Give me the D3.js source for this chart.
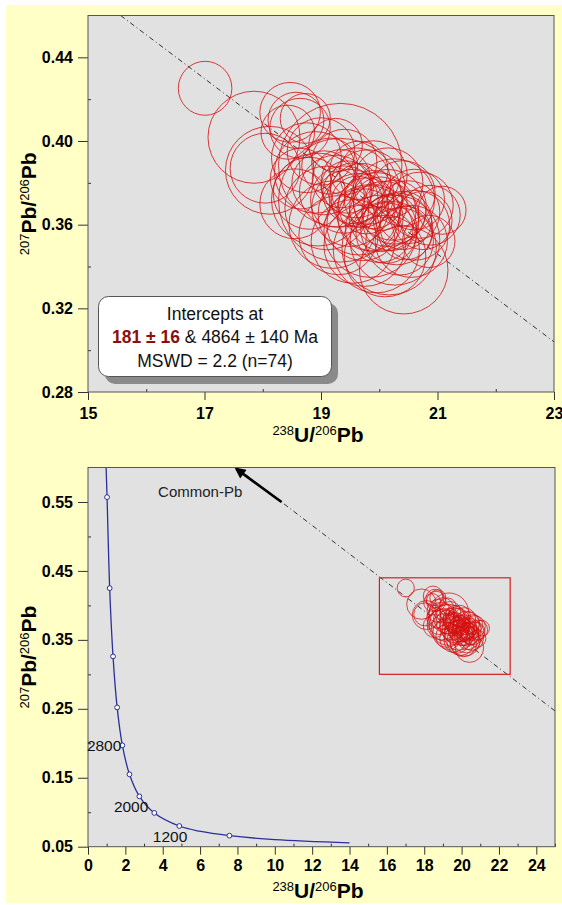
<!DOCTYPE html>
<html>
<head>
<meta charset="utf-8">
<script src="https://cdn.jsdelivr.net/npm/d3@7"></script>
<style>
  body { margin: 0; background: #fff; }
  svg { display: block; font-family: "Liberation Sans", Arial, sans-serif; }
</style>
</head>
<body>
<svg id="chart" width="562" height="905"></svg>
<script>

// spot analyses: 238U/206Pb, 207Pb/206Pb and their error half-widths
var u238 = [17.01, 17.85, 18.47, 18.57, 18.64, 18.43, 18.73, 19.33, 18.12, 18.04, 19.33, 20.42, 20.17, 20.27, 21.08, 20.87, 20.70, 20.61,
            18.75, 18.90, 19.05, 19.15, 19.25, 19.35, 19.40, 19.45, 19.50, 19.55, 19.60, 19.62, 19.65, 19.70, 19.72, 19.78, 19.80, 19.85,
            19.90, 19.95, 20.00, 20.02, 20.08, 20.12, 20.15, 20.20, 20.25, 20.30, 20.35, 20.40, 20.45, 20.50,
            19.10, 18.95, 19.20, 19.30, 19.55, 19.75, 19.95, 20.10, 19.40, 19.65, 19.90, 20.15, 20.40, 20.60, 20.75, 20.55,
            18.80, 18.65, 19.00, 19.25, 20.85, 19.85, 18.55, 20.25];
var pb207 = [0.4252, 0.4018, 0.4137, 0.4099, 0.4061, 0.4042, 0.4108, 0.3884, 0.3860, 0.3870, 0.3717, 0.3383, 0.3488, 0.3526, 0.3669, 0.3645, 0.3693, 0.3597,
             0.392, 0.385, 0.380, 0.388, 0.376, 0.382, 0.372, 0.378, 0.368, 0.375, 0.380, 0.371, 0.365, 0.374, 0.360, 0.369, 0.378, 0.363,
             0.372, 0.366, 0.358, 0.370, 0.364, 0.356, 0.368, 0.361, 0.366, 0.358, 0.352, 0.362, 0.356, 0.366,
             0.368, 0.372, 0.360, 0.355, 0.352, 0.350, 0.348, 0.345, 0.390, 0.386, 0.384, 0.380, 0.375, 0.372, 0.362, 0.352,
             0.375, 0.382, 0.395, 0.398, 0.352, 0.357, 0.370, 0.372];
var errU = [0.46, 0.79, 0.52, 0.48, 0.52, 0.46, 0.43, 1.06, 0.76, 0.60, 1.06, 0.76, 0.81, 0.77, 0.41, 0.52, 0.57, 0.60,
            0.60, 0.70, 0.55, 0.48, 0.62, 0.50, 0.58, 0.45, 0.66, 0.52, 0.60, 0.44, 0.70, 0.55, 0.62, 0.48, 0.64, 0.56,
            0.50, 0.68, 0.58, 0.46, 0.60, 0.52, 0.66, 0.48, 0.55, 0.62, 0.58, 0.50, 0.46, 0.54,
            0.72, 0.80, 0.75, 0.68, 0.72, 0.70, 0.74, 0.70, 0.56, 0.50, 0.58, 0.60, 0.56, 0.52, 0.50, 0.62,
            0.62, 0.52, 0.58, 0.46, 0.45, 0.80, 0.60, 0.70];
var errPb = [0.0129, 0.0220, 0.0143, 0.0134, 0.0143, 0.0129, 0.0119, 0.0296, 0.0210, 0.0167, 0.0296, 0.0210, 0.0224, 0.0215, 0.0115, 0.0143, 0.0158, 0.0167,
             0.0167, 0.0195, 0.0153, 0.0134, 0.0172, 0.0139, 0.0161, 0.0125, 0.0184, 0.0145, 0.0167, 0.0122, 0.0195, 0.0153, 0.0172, 0.0134, 0.0178, 0.0156,
             0.0139, 0.0189, 0.0161, 0.0128, 0.0167, 0.0145, 0.0184, 0.0134, 0.0153, 0.0172, 0.0161, 0.0139, 0.0128, 0.0150,
             0.0200, 0.0222, 0.0209, 0.0189, 0.0200, 0.0195, 0.0206, 0.0195, 0.0156, 0.0139, 0.0161, 0.0167, 0.0156, 0.0145, 0.0139, 0.0172,
             0.0172, 0.0145, 0.0161, 0.0128, 0.0125, 0.0222, 0.0167, 0.0195];

var topLine = [[15.56, 0.460], [23.0, 0.304]];
var bottomLine = [[7.94, 0.600], [25.0, 0.247]];
var commonArrow = [[10.36, 0.550], [7.94, 0.598]];
var zoomBox = [[15.6, 0.44], [22.6, 0.30]];

// concordia (Tera-Wasserburg) markers every 400 Ma
var concAges = [4400, 4000, 3600, 3200, 2800, 2400, 2000, 1600, 1200, 800];
var concX = [1.02, 1.16, 1.34, 1.56, 1.84, 2.22, 2.75, 3.55, 4.89, 7.57];
var concY = [0.557, 0.425, 0.326, 0.252, 0.197, 0.155, 0.123, 0.099, 0.080, 0.066];
// curve trace
var curveX = [0.97, 1.02, 1.16, 1.34, 1.56, 1.84, 2.22, 2.75, 3.55, 4.89, 5.96, 7.57, 10.0, 14.0];
var curveY = [0.600, 0.557, 0.425, 0.326, 0.252, 0.197, 0.155, 0.123, 0.099, 0.080, 0.0725, 0.066, 0.0603, 0.0556];
var labelAges = [2800, 2000, 1200];

// ticks
var topXTicks = [15, 17, 19, 21, 23], topXMinor = [16, 18, 20, 22];
var topYTicks = [0.28, 0.32, 0.36, 0.40, 0.44], topYMinor = [0.30, 0.34, 0.38, 0.42];
var botXTicks = [0, 2, 4, 6, 8, 10, 12, 14, 16, 18, 20, 22, 24], botXMinor = [1, 3, 5, 7, 9, 11, 13, 15, 17, 19, 21, 23, 25];
var botYTicks = [0.05, 0.15, 0.25, 0.35, 0.45, 0.55], botYMinor = [0.10, 0.20, 0.30, 0.40, 0.50];

var svg = d3.select("#chart");

svg.append("rect").attr("width", 562).attr("height", 905).attr("fill", "#fff");
svg.append("rect").attr("x", 6).attr("y", 5).attr("width", 556).attr("height", 898).attr("fill", "#ffffc6");

var defs = svg.append("defs");
defs.append("marker")
    .attr("id", "head")
    .attr("viewBox", "0 -5 10 10")
    .attr("refX", 8).attr("refY", 0)
    .attr("markerWidth", 5).attr("markerHeight", 4.2)
    .attr("orient", "auto")
  .append("path")
    .attr("d", "M0,-5L10,0L0,5Z")
    .attr("fill", "#000");

var points = u238.map(function(d, i) {
    return {x: d, y: pb207[i], ex: errU[i], ey: errPb[i]};
});

function panel(id, box, xd, yd) {
    var x = d3.scaleLinear().domain(xd).range([box.l, box.r]);
    var y = d3.scaleLinear().domain(yd).range([box.b, box.t]);
    var g = svg.append("g");
    g.append("rect")
        .attr("x", box.l).attr("y", box.t)
        .attr("width", box.r - box.l).attr("height", box.b - box.t)
        .attr("fill", "#e1e1e1");
    defs.append("clipPath").attr("id", id)
      .append("rect")
        .attr("x", box.l).attr("y", box.t)
        .attr("width", box.r - box.l).attr("height", box.b - box.t);
    var inner = g.append("g").attr("clip-path", "url(#" + id + ")");
    return {g: g, inner: inner, x: x, y: y, box: box};
}

function styleAxis(a) {
    a.select(".domain").remove();
    a.selectAll("line").attr("stroke", "#333");
    a.selectAll("text")
        .attr("font-family", "'Liberation Sans', Arial, sans-serif")
        .attr("font-size", 16)
        .attr("font-weight", "bold")
        .attr("fill", "#000");
}

function axes(p, xt, xm, yt, ym, xfmt, yfmt, xpad) {
    var b = p.box;
    p.g.append("g").attr("transform", "translate(0," + b.b + ")")
        .call(d3.axisBottom(p.x).tickValues(xm).tickSize(-3).tickFormat(""))
        .call(styleAxis);
    p.g.append("g").attr("transform", "translate(0," + b.b + ")")
        .call(d3.axisBottom(p.x).tickValues(xt).tickSize(8).tickPadding(xpad).tickFormat(xfmt))
        .call(styleAxis);
    p.g.append("g").attr("transform", "translate(" + b.l + ",0)")
        .call(d3.axisLeft(p.y).tickValues(ym).tickSize(-3).tickFormat(""))
        .call(styleAxis);
    p.g.append("g").attr("transform", "translate(" + b.l + ",0)")
        .call(d3.axisLeft(p.y).tickValues(yt).tickSize(10).tickPadding(5).tickFormat(yfmt))
        .call(styleAxis);
    p.g.append("rect")
        .attr("x", b.l).attr("y", b.t)
        .attr("width", b.r - b.l).attr("height", b.b - b.t)
        .attr("fill", "none").attr("stroke", "#555").attr("stroke-width", 1);
}

function ratioLabel(t, a, A, b, B) {
    t.attr("font-size", 21).attr("font-weight", "bold").attr("fill", "#000");
    t.append("tspan").attr("font-size", 13).attr("font-weight", "normal").attr("dy", -7).text(a);
    t.append("tspan").attr("dy", 7).text(A + "/");
    t.append("tspan").attr("font-size", 13).attr("font-weight", "normal").attr("dy", -7).text(b);
    t.append("tspan").attr("dy", 7).text(B);
}

function ellipses(p, opacity) {
    p.inner.selectAll("ellipse.spot")
        .data(points)
      .enter().append("ellipse")
        .attr("class", "spot")
        .attr("cx", function(d) { return p.x(d.x); })
        .attr("cy", function(d) { return p.y(d.y); })
        .attr("rx", function(d) { return p.x(d.x + d.ex) - p.x(d.x); })
        .attr("ry", function(d) { return p.y(d.y) - p.y(d.y + d.ey); })
        .attr("fill", "none")
        .attr("stroke", "#d40f0f")
        .attr("stroke-opacity", opacity)
        .attr("stroke-width", 1);
}

function dashLine(p, pts) {
    p.inner.append("line")
        .attr("x1", p.x(pts[0][0])).attr("y1", p.y(pts[0][1]))
        .attr("x2", p.x(pts[1][0])).attr("y2", p.y(pts[1][1]))
        .attr("stroke", "#333")
        .attr("stroke-width", 1)
        .attr("stroke-dasharray", "5,3,1,3");
}

// ---- top panel ----
var upper = panel("clipTop", {l: 88, r: 554, t: 15.5, b: 392}, [15, 23], [0.28, 0.46]);
dashLine(upper, topLine);
ellipses(upper, 0.8);
axes(upper, topXTicks, topXMinor, topYTicks, topYMinor, d3.format("d"), d3.format(".2f"), 8);

ratioLabel(svg.append("text")
    .attr("text-anchor", "middle")
    .attr("x", 318).attr("y", 442), "238", "U", "206", "Pb");
ratioLabel(svg.append("text")
    .attr("text-anchor", "middle")
    .attr("transform", "translate(36," + ((upper.box.t + upper.box.b) / 2) + ") rotate(-90)"), "207", "Pb", "206", "Pb");

// intercepts box
var lg = svg.append("g");
lg.append("rect").attr("x", 105).attr("y", 303).attr("width", 233).attr("height", 81)
    .attr("rx", 10).attr("fill", "#8a8a8a");
lg.append("rect").attr("x", 98.5).attr("y", 296.5).attr("width", 233).attr("height", 80)
    .attr("rx", 10).attr("fill", "#fff").attr("stroke", "#555");
lg.append("text").attr("text-anchor", "middle").attr("font-size", 17.5).attr("fill", "#111")
    .attr("x", 215).attr("y", 319.5).text("Intercepts at");
var l2 = lg.append("text").attr("text-anchor", "middle").attr("font-size", 17.5).attr("fill", "#111")
    .attr("x", 215).attr("y", 343);
l2.append("tspan").attr("fill", "#8b0f0f").attr("font-weight", "bold").text("181 \u00b1 16");
l2.append("tspan").text(" & 4864 \u00b1 140 Ma");
lg.append("text").attr("text-anchor", "middle").attr("font-size", 17.5).attr("fill", "#111")
    .attr("x", 215).attr("y", 367).text("MSWD = 2.2 (n=74)");

// ---- bottom panel ----
var lower = panel("clipBot", {l: 88, r: 555, t: 467.5, b: 846.7}, [0, 25], [0.05, 0.60]);
dashLine(lower, bottomLine);

lower.inner.append("line")
    .attr("x1", lower.x(commonArrow[0][0])).attr("y1", lower.y(commonArrow[0][1]))
    .attr("x2", lower.x(commonArrow[1][0])).attr("y2", lower.y(commonArrow[1][1]))
    .attr("stroke", "#000").attr("stroke-width", 2.6)
    .attr("marker-end", "url(#head)");
svg.append("text")
    .attr("x", lower.x(commonArrow[1][0]) + 6).attr("y", lower.y(commonArrow[1][1]) + 28)
    .attr("text-anchor", "end").attr("font-size", 15).attr("fill", "#222")
    .text("Common-Pb");

lower.inner.append("rect")
    .attr("x", lower.x(zoomBox[0][0])).attr("y", lower.y(zoomBox[0][1]))
    .attr("width", lower.x(zoomBox[1][0]) - lower.x(zoomBox[0][0]))
    .attr("height", lower.y(zoomBox[1][1]) - lower.y(zoomBox[0][1]))
    .attr("fill", "none").attr("stroke", "#d42020").attr("stroke-width", 1.2);

ellipses(lower, 0.75);

var conc = d3.line()
    .x(function(d) { return lower.x(d[0]); })
    .y(function(d) { return lower.y(d[1]); })
    .curve(d3.curveCatmullRom);
lower.inner.append("path")
    .datum(curveX.map(function(d, i) { return [d, curveY[i]]; }))
    .attr("d", conc)
    .attr("fill", "none").attr("stroke", "#2b2f98").attr("stroke-width", 1.3);

var marks = concAges.map(function(a, i) { return {age: a, x: concX[i], y: concY[i]}; });
lower.inner.selectAll("circle.age")
    .data(marks)
  .enter().append("circle")
    .attr("class", "age")
    .attr("cx", function(d) { return lower.x(d.x); })
    .attr("cy", function(d) { return lower.y(d.y); })
    .attr("r", 2.4)
    .attr("fill", "#fff").attr("stroke", "#2b2f98").attr("stroke-width", 1);

var labelOffset = {2800: [-1, 6], 2000: [9, 16], 1200: [8, 16]};
svg.selectAll("text.age")
    .data(marks.filter(function(d) { return labelAges.indexOf(d.age) >= 0; }))
  .enter().append("text")
    .attr("class", "age")
    .attr("x", function(d) { return lower.x(d.x) + labelOffset[d.age][0]; })
    .attr("y", function(d) { return lower.y(d.y) + labelOffset[d.age][1]; })
    .attr("text-anchor", "end").attr("font-size", 15.5).attr("fill", "#111")
    .text(function(d) { return d.age; });

axes(lower, botXTicks, botXMinor, botYTicks, botYMinor, d3.format("d"), d3.format(".2f"), 5);

ratioLabel(svg.append("text")
    .attr("text-anchor", "middle")
    .attr("x", 318).attr("y", 898), "238", "U", "206", "Pb");
ratioLabel(svg.append("text")
    .attr("text-anchor", "middle")
    .attr("transform", "translate(36," + ((lower.box.t + lower.box.b) / 2) + ") rotate(-90)"), "207", "Pb", "206", "Pb");

</script>
</body>
</html>
